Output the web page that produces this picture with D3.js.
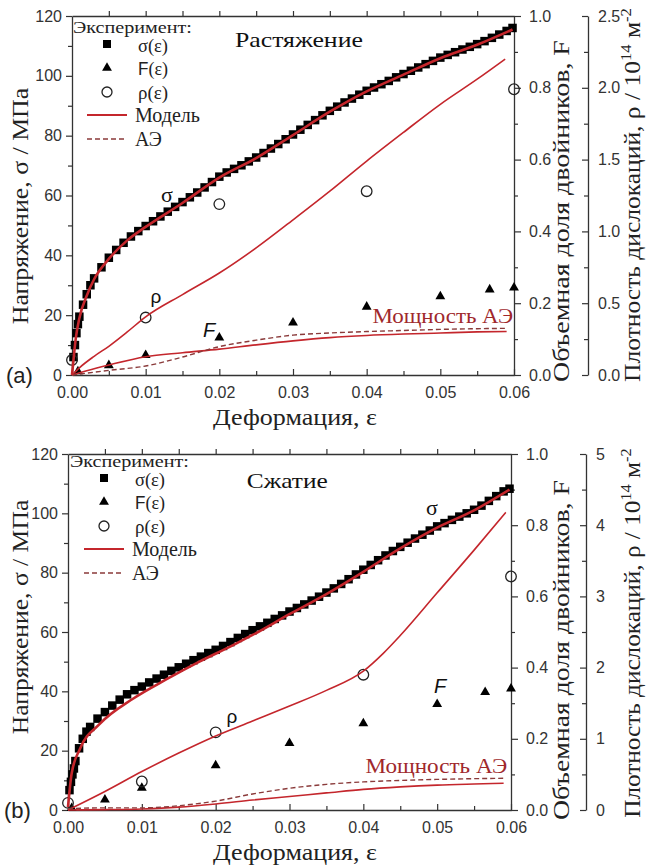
<!DOCTYPE html>
<html><head><meta charset="utf-8">
<script src="https://cdn.jsdelivr.net/npm/d3@7"></script>
<style>body{margin:0;background:#fff}</style>
</head><body>
<svg id="c" width="649" height="868"></svg>
<script>
// ---------- DATA ----------
const epsTicks = [0, 0.01, 0.02, 0.03, 0.04, 0.05, 0.06];
const epsMinor = [0.005, 0.015, 0.025, 0.035, 0.045, 0.055];
const sigmaTicks = [0, 20, 40, 60, 80, 100, 120];
const sigmaMinor = [10, 30, 50, 70, 90, 110];
const fTicks = [0, 0.2, 0.4, 0.6, 0.8, 1.0];
const fMinor = [0.1, 0.3, 0.5, 0.7, 0.9];
const rhoTicksTension = [0, 0.5, 1.0, 1.5, 2.0, 2.5];
const rhoMinorTension = [0.25, 0.75, 1.25, 1.75, 2.25];
const rhoTicksCompression = [0, 1, 2, 3, 4, 5];
const rhoMinorCompression = [0.5, 1.5, 2.5, 3.5, 4.5];

// Tension (a)
const tensionSigmaExp = [
 [0.0002,6],[0.0004,10],[0.0006,14],[0.0008,17],[0.001,19.5],[0.0015,23.5],[0.002,27],[0.0025,30],[0.003,32.3],[0.004,36],
 [0.005,39.2],[0.006,41.8],[0.007,44.2],[0.008,46.3],[0.009,48.1],[0.010,49.8],[0.011,51.4],[0.012,53],[0.013,54.6],[0.014,56.2],
 [0.015,57.8],[0.016,59.4],[0.017,61],[0.018,62.7],[0.019,64.5],[0.020,66.3],[0.021,67.7],[0.022,68.9],[0.023,70.1],[0.024,71.4],
 [0.025,72.7],[0.026,74.2],[0.027,75.7],[0.028,77.2],[0.029,78.8],[0.030,80.4],[0.031,82],[0.032,83.6],[0.033,85.2],[0.034,86.8],
 [0.035,88.3],[0.036,89.7],[0.037,91.1],[0.038,92.4],[0.039,93.7],[0.040,95],[0.041,96.1],[0.042,97.2],[0.043,98.3],[0.044,99.5],
 [0.045,100.6],[0.046,101.7],[0.047,102.8],[0.048,103.9],[0.049,105],[0.050,106.1],[0.051,107],[0.052,107.9],[0.053,108.8],[0.054,109.7],
 [0.055,110.6],[0.056,111.6],[0.057,112.7],[0.058,113.8],[0.059,115],[0.0598,116]
];
const tensionSigmaModel = [
 [0,0],[0.0002,5],[0.0005,12],[0.001,19],[0.002,26.5],[0.003,32],[0.005,38.8],[0.0075,45],[0.01,49.5],[0.015,57.5],
 [0.02,66],[0.025,72.5],[0.03,80.2],[0.035,88],[0.04,94.8],[0.045,100.4],[0.05,105.9],[0.055,110.4],[0.0598,115.5]
];
const tensionRhoExp = [[0,0.105],[0.01,0.40],[0.02,1.19],[0.04,1.28],[0.06,1.99]];
const tensionRhoModel = [
 [0,0],[0.001,0.05],[0.003,0.13],[0.005,0.2],[0.0075,0.3],[0.01,0.405],[0.015,0.56],[0.02,0.71],[0.025,0.885],
 [0.03,1.08],[0.035,1.28],[0.04,1.49],[0.045,1.69],[0.05,1.885],[0.055,2.06],[0.0588,2.2]
];
const tensionFExp = [[0.0008,0.01],[0.005,0.027],[0.01,0.055],[0.02,0.104],[0.03,0.146],[0.04,0.19],[0.05,0.219],[0.0567,0.238],[0.06,0.243]];
const tensionFModel = [
 [0,0],[0.002,0.012],[0.005,0.028],[0.01,0.051],[0.015,0.062],[0.02,0.072],[0.025,0.084],[0.03,0.095],[0.035,0.104],
 [0.04,0.11],[0.045,0.114],[0.05,0.117],[0.055,0.12],[0.059,0.121]
];
const tensionAE = [
 [0,0],[0.005,0.013],[0.01,0.025],[0.015,0.05],[0.02,0.079],[0.025,0.097],[0.03,0.111],[0.035,0.117],[0.04,0.121],
 [0.045,0.124],[0.05,0.127],[0.055,0.129],[0.059,0.13]
];

// Compression (b)
const compSigmaExp = [
 [0.0002,6.7],[0.0004,9.5],[0.0006,12],[0.0008,14],[0.001,16.5],[0.0015,20.8],[0.002,24],[0.0025,26.4],[0.003,28],[0.004,30.8],
 [0.005,33],[0.006,35.2],[0.007,37.2],[0.008,39],[0.009,40.4],[0.010,41.6],[0.011,43],[0.012,44.3],[0.013,45.6],[0.014,46.9],
 [0.015,48.1],[0.016,49.3],[0.017,50.5],[0.018,51.7],[0.019,52.9],[0.020,54],[0.021,55.3],[0.022,56.6],[0.023,58],[0.024,59.3],
 [0.025,60.6],[0.026,61.9],[0.027,63.1],[0.028,64.4],[0.029,65.6],[0.030,66.9],[0.031,68.1],[0.032,69.3],[0.033,70.6],[0.034,71.9],
 [0.035,73.3],[0.036,74.7],[0.037,76.2],[0.038,77.8],[0.039,79.4],[0.040,81],[0.041,82.6],[0.042,84.2],[0.043,85.8],[0.044,87.3],
 [0.045,88.7],[0.046,90.1],[0.047,91.5],[0.048,92.8],[0.049,94.2],[0.050,95.6],[0.051,96.7],[0.052,97.8],[0.053,98.9],[0.054,100],
 [0.055,101.2],[0.056,102.6],[0.057,104.2],[0.058,105.8],[0.059,107.4],[0.0598,108.3]
];
const compSigmaModel = [
 [0,1],[0.0005,12.4],[0.0016,20.5],[0.0043,29],[0.0088,37.5],[0.0133,44],[0.0178,50],[0.0223,55.5],[0.025,59],
 [0.03,66],[0.035,72.8],[0.04,80.3],[0.045,88.2],[0.05,95.2],[0.055,101],[0.0598,108]
];
const compRhoExp = [[0,0.1],[0.01,0.40],[0.02,1.09],[0.04,1.9],[0.06,3.28]];
const compRhoModel = [
 [0,0],[0.005,0.26],[0.01,0.54],[0.015,0.8],[0.02,1.04],[0.025,1.25],[0.03,1.46],[0.035,1.68],[0.04,1.95],
 [0.0427,2.2],[0.045,2.45],[0.05,3.05],[0.055,3.65],[0.0593,4.18]
];
const compFExp = [[0.0005,0.005],[0.005,0.029],[0.01,0.062],[0.02,0.125],[0.03,0.188],[0.04,0.243],[0.05,0.297],[0.0565,0.331],[0.06,0.341]];
const compFModel = [
 [0,0],[0.005,0.001],[0.01,0.003],[0.015,0.008],[0.02,0.017],[0.025,0.028],[0.03,0.038],[0.035,0.048],[0.04,0.058],
 [0.045,0.065],[0.05,0.07],[0.055,0.073],[0.059,0.075]
];
const compAE = [
 [0,0.004],[0.005,0.006],[0.01,0.006],[0.015,0.012],[0.02,0.025],[0.025,0.045],[0.03,0.061],[0.035,0.072],[0.04,0.079],
 [0.045,0.083],[0.05,0.086],[0.055,0.088],[0.059,0.089]
];

// ---------- DRAW ----------
const svg = d3.select("#c");
const SERIF = "'Liberation Serif', 'DejaVu Serif', 'Noto Serif', 'Times New Roman', serif";
const SANS = "'Liberation Sans', Arial, sans-serif";
const RED = "#c4262c";
const DARKRED = "#a0282c";
const AXC = "#333";

function txt(parent, x, y, opts) {
  const t = parent.append("text")
    .attr("text-anchor", opts.anchor || "start")
    .style("font-family", opts.family || SERIF)
    .style("font-size", (opts.size || 19) + "px")
    .attr("fill", opts.fill || "#222");
  if (opts.italic) t.style("font-style", "italic");
  if (opts.parts) {
    opts.parts.forEach(p => {
      const s = t.append("tspan").text(p.t);
      if (p.dy) s.attr("dy", p.dy);
      if (p.size) s.style("font-size", p.size + "px");
      if (p.family) s.style("font-family", p.family);
    });
  } else t.text(opts.text);
  const rot = opts.rotate ? " rotate(-90)" : "";
  let sc = "";
  if (opts.len) {
    const w = t.node().getBBox().width;
    if (w > 0) sc = ` scale(${opts.len / w},1)`;
  }
  t.attr("transform", `translate(${x},${y})${rot}${sc}`);
  return t;
}

function panel(cfg) {
  const g = svg.append("g");
  const x = d3.scaleLinear().domain([0, 0.06]).range([cfg.x0, cfg.x1]);
  const yS = d3.scaleLinear().domain([0, 120]).range([cfg.yBot, cfg.yTop]);
  const yF = d3.scaleLinear().domain([0, 1]).range([cfg.yBot, cfg.yTop]);
  const yR = d3.scaleLinear().domain([0, cfg.rhoMax]).range([cfg.yBot, cfg.yTop]);

  function styleAxis(sel) {
    sel.selectAll(".domain").attr("stroke", AXC).attr("stroke-width", 1.3);
    sel.selectAll(".tick line").attr("stroke", AXC).attr("stroke-width", 1.2);
    sel.selectAll("text").style("font-family", SANS).style("font-size", "16px").attr("fill", "#333");
  }
  function minor(sel) { sel.select(".domain").remove(); }

  g.append("g").attr("transform", `translate(${cfg.x0},0)`)
    .call(d3.axisLeft(yS).tickValues(sigmaTicks).tickSizeInner(6).tickSizeOuter(0).tickPadding(4)).call(styleAxis);
  g.append("g").attr("transform", `translate(${cfg.x0},0)`)
    .call(d3.axisLeft(yS).tickValues(sigmaMinor).tickSize(4).tickFormat("")).call(styleAxis).call(minor);
  g.append("g").attr("transform", `translate(0,${cfg.yBot})`)
    .call(d3.axisBottom(x).tickValues(epsTicks).tickSizeInner(-6).tickSizeOuter(0).tickPadding(12).tickFormat(d3.format(".2f"))).call(styleAxis);
  g.append("g").attr("transform", `translate(0,${cfg.yBot})`)
    .call(d3.axisBottom(x).tickValues(epsMinor).tickSize(-4).tickFormat("")).call(styleAxis).call(minor);
  g.append("g").attr("transform", `translate(0,${cfg.yTop})`)
    .call(d3.axisTop(x).tickValues(epsTicks.slice(1, -1).concat(epsMinor)).tickSizeInner(5).tickSizeOuter(0).tickFormat("")).call(styleAxis);
  g.append("g").attr("transform", `translate(${cfg.x1},0)`)
    .call(d3.axisRight(yF).tickValues(fTicks).tickSizeInner(7).tickSizeOuter(0).tickPadding(8).tickFormat(d3.format(".1f"))).call(styleAxis);
  g.append("g").attr("transform", `translate(${cfg.x1},0)`)
    .call(d3.axisRight(yF).tickValues(fMinor).tickSize(4).tickFormat("")).call(styleAxis).call(minor);
  g.append("g").attr("transform", `translate(${cfg.rhoX},0)`)
    .call(d3.axisRight(yR).tickValues(cfg.rhoTicks).tickSizeInner(-6).tickSizeOuter(0).tickPadding(10).tickFormat(cfg.rhoFmt)).call(styleAxis);
  g.append("g").attr("transform", `translate(${cfg.rhoX},0)`)
    .call(d3.axisRight(yR).tickValues(cfg.rhoMinor).tickSize(-4).tickFormat("")).call(styleAxis).call(minor);

  const lineS = d3.line().x(d => x(d[0])).y(d => yS(d[1])).curve(d3.curveMonotoneX);
  const lineF = d3.line().x(d => x(d[0])).y(d => yF(d[1])).curve(d3.curveMonotoneX);
  const lineR = d3.line().x(d => x(d[0])).y(d => yR(d[1])).curve(d3.curveMonotoneX);

  const sq = 8.5;
  g.append("g").selectAll("rect").data(cfg.sigmaExp).join("rect")
    .attr("x", d => x(d[0]) - sq / 2).attr("y", d => yS(d[1]) - sq / 2)
    .attr("width", sq).attr("height", sq).attr("fill", "#000");

  const tri = d3.symbol().type(d3.symbolTriangle).size(42);
  g.append("g").selectAll("path").data(cfg.fExp).join("path")
    .attr("transform", d => `translate(${x(d[0])},${yF(d[1])})`).attr("d", tri).attr("fill", "#000");

  g.append("g").selectAll("circle").data(cfg.rhoExp).join("circle")
    .attr("cx", d => x(d[0])).attr("cy", d => yR(d[1])).attr("r", 5.3)
    .attr("fill", "none").attr("stroke", "#222").attr("stroke-width", 1.3);

  g.append("path").datum(cfg.rhoModel).attr("d", lineR).attr("fill", "none").attr("stroke", RED).attr("stroke-width", 1.6);
  g.append("path").datum(cfg.fModel).attr("d", lineF).attr("fill", "none").attr("stroke", RED).attr("stroke-width", 1.6);
  g.append("path").datum(cfg.ae).attr("d", lineF).attr("fill", "none").attr("stroke", "#8a3a3a").attr("stroke-width", 1.4).attr("stroke-dasharray", "5,3");
  g.append("path").datum(cfg.sigmaModel).attr("d", lineS).attr("fill", "none").attr("stroke", RED).attr("stroke-width", 2.6);

  txt(g, x(cfg.titlePos[0]), yS(cfg.titlePos[1]), {text: cfg.title, anchor: "middle", size: 21, fill: "#111", len: cfg.titleLen});
  txt(g, x(cfg.sigLab[0]), yS(cfg.sigLab[1]), {text: "σ", anchor: "middle", size: 22, fill: "#111"});
  txt(g, x(cfg.rhoLab[0]), yS(cfg.rhoLab[1]), {text: "ρ", anchor: "middle", size: 19, fill: "#111", family: SANS});
  txt(g, x(cfg.fLab[0]), yS(cfg.fLab[1]), {text: "F", anchor: "middle", size: 20, fill: "#111", family: SANS, italic: true});
  txt(g, x(cfg.aeLab[0]), yS(cfg.aeLab[1]), {text: "Мощность АЭ", anchor: "end", size: 20, fill: DARKRED, len: cfg.aeLen});
  txt(g, cfg.tagX, cfg.yBot + cfg.tagDy, {text: cfg.tag, size: 22, family: SANS});

  txt(g, 295, cfg.yBot + 50, {text: "Деформация, ε", anchor: "middle", size: 23, len: 164});
  txt(g, 28, cfg.leftTitleY, {text: "Напряжение, σ / МПа", anchor: "middle", size: 24, rotate: true, len: cfg.leftLen});
  txt(g, 569, cfg.fTitleY, {text: "Объемная доля двойников, F", anchor: "middle", size: 23, rotate: true, len: cfg.fLen});
  txt(g, 640, cfg.rTitleY, {anchor: "middle", size: 23, rotate: true, len: cfg.rLen, parts: [
    {t: "Плотность дислокаций, ρ / 10"}, {t: "14", dy: -9, size: 15}, {t: " м", dy: 9}, {t: "-2", dy: -9, size: 15}]});

  const lx = cfg.lx, ly = cfg.ly;
  const lg = g.append("g");
  txt(lg, lx, ly - 2, {text: "Эксперимент:", size: 17, len: 119});
  lg.append("rect").attr("x", lx + 34 - 4).attr("y", ly + 9 - 4).attr("width", 8).attr("height", 8).attr("fill", "#000");
  txt(lg, lx + 65, ly + 17, {text: "σ(ε)", size: 18, len: 30});
  lg.append("path").attr("transform", `translate(${lx + 34},${ly + 33})`).attr("d", tri).attr("fill", "#000");
  txt(lg, lx + 65, ly + 40, {size: 19, len: 30, parts: [{t: "F", family: SANS, size: 18}, {t: "(ε)"}]});
  lg.append("circle").attr("cx", lx + 34).attr("cy", ly + 57).attr("r", 5).attr("fill", "none").attr("stroke", "#222").attr("stroke-width", 1.3);
  txt(lg, lx + 65, ly + 64, {text: "ρ(ε)", size: 19, len: 30});
  lg.append("line").attr("x1", lx + 14).attr("x2", lx + 54).attr("y1", ly + 80).attr("y2", ly + 80).attr("stroke", RED).attr("stroke-width", 2);
  txt(lg, lx + 62, ly + 87, {text: "Модель", size: 20, len: 65});
  lg.append("line").attr("x1", lx + 14).attr("x2", lx + 54).attr("y1", ly + 104).attr("y2", ly + 104).attr("stroke", "#8a3a3a").attr("stroke-width", 1.4).attr("stroke-dasharray", "5,3");
  txt(lg, lx + 62, ly + 111, {text: "АЭ", size: 20, len: 27});
}

panel({
  x0: 72, x1: 514, yTop: 16, yBot: 375, rhoX: 588, rhoMax: 2.5,
  rhoTicks: rhoTicksTension, rhoMinor: rhoMinorTension, rhoFmt: d3.format(".1f"),
  sigmaExp: tensionSigmaExp, sigmaModel: tensionSigmaModel, rhoExp: tensionRhoExp, rhoModel: tensionRhoModel,
  fExp: tensionFExp, fModel: tensionFModel, ae: tensionAE,
  title: "Растяжение", titleLen: 128, titlePos: [0.0308, 109.7], sigLab: [0.0129, 57.8], rhoLab: [0.0114, 24], fLab: [0.0186, 12.7],
  aeLab: [0.0599, 17.4], aeLen: 141, tag: "(a)", tagX: 6, tagDy: 8,
  leftTitleY: 206, leftLen: 237, fTitleY: 211, fLen: 342, rTitleY: 195, rLen: 374, lx: 73, ly: 35
});
panel({
  x0: 68, x1: 511, yTop: 454, yBot: 810, rhoX: 586, rhoMax: 5,
  rhoTicks: rhoTicksCompression, rhoMinor: rhoMinorCompression, rhoFmt: d3.format("d"),
  sigmaExp: compSigmaExp, sigmaModel: compSigmaModel, rhoExp: compRhoExp, rhoModel: compRhoModel,
  fExp: compFExp, fModel: compFModel, ae: compAE,
  title: "Сжатие", titleLen: 81, titlePos: [0.0297, 108.5], sigLab: [0.0493, 99.4], rhoLab: [0.0222, 29.3], fLab: [0.0504, 39.4],
  aeLab: [0.0595, 12.5], aeLen: 142, tag: "(b)", tagX: 4, tagDy: 8,
  leftTitleY: 617, leftLen: 235, fTitleY: 650, fLen: 340, rTitleY: 633, rLen: 370, lx: 70, ly: 469
});
</script>
</body></html>
